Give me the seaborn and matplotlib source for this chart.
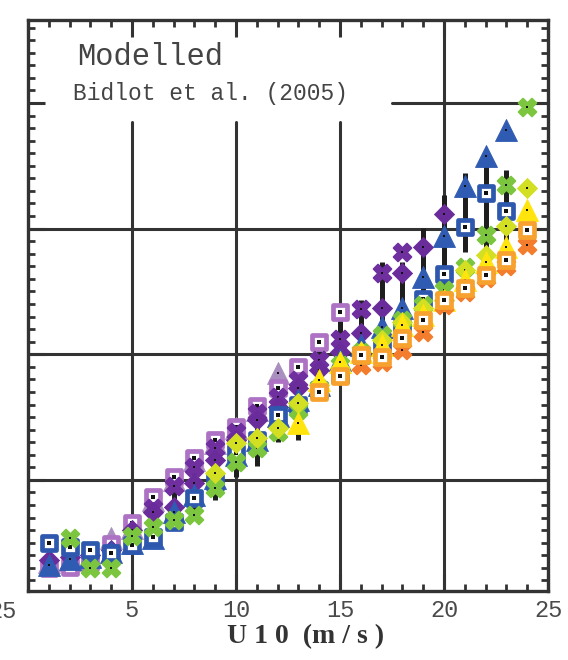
import numpy as np
import pandas as pd
import matplotlib
matplotlib.use("Agg")
import matplotlib.pyplot as plt
from matplotlib.ticker import MultipleLocator
import seaborn as sns

nan = np.nan
wind = list(range(1, 25))  # U10 bins (m/s)

# Observed drag values per wind bin (NaN where a source has no data)
lilac_sq = [0.650, 0.654, 0.674, 0.745, 0.829, 0.932, 1.012, 1.088, 1.159, 1.211, 1.294, 1.366,
            1.449, 1.549, 1.668, nan, nan, nan, nan, nan, nan, nan, nan, nan]
lilac_tri = [0.674, 0.682, 0.698, 0.769, 0.809, 0.920, 1.000, 1.080, 1.147, 1.207, 1.278, 1.426,
             nan, nan, nan, nan, nan, nan, nan, nan, nan, nan, nan, nan]
purple_dia = [0.682, 0.694, 0.702, 0.722, 0.801, 0.873, 0.893, 0.988, 1.080, 1.159, 1.239, 1.290,
              1.366, 1.438, 1.509, 1.585, 1.684, 1.823, 1.927, 2.058, nan, nan, nan, nan]
purple_x = [nan, nan, nan, nan, nan, 0.889, 0.976, 1.052, 1.127, 1.191, 1.267, 1.330,
            1.398, 1.477, 1.561, 1.680, 1.823, 1.907, nan, nan, nan, nan, nan, nan]
blue_tri = [0.662, 0.686, 0.694, 0.714, 0.749, 0.769, 0.873, 0.940, 1.008, 1.099, 1.159, 1.255,
            1.318, 1.378, 1.477, 1.537, 1.609, 1.684, 1.807, 1.971, 2.169, 2.289, 2.392, nan]
blue_sq = [0.749, 0.733, 0.722, 0.710, 0.741, 0.773, 0.833, 0.928, 0.992, 1.107, 1.159, 1.259,
           1.298, 1.358, 1.418, 1.497, 1.537, 1.605, 1.720, 1.819, 2.006, 2.142, 2.070, nan]
green_x = [nan, 0.769, 0.650, 0.650, 0.777, 0.813, 0.841, 0.861, 0.968, 1.072, 1.127, 1.191,
           1.278, 1.366, 1.457, 1.509, 1.577, 1.636, 1.696, 1.756, 1.847, 1.975, 2.173, 2.484]
lime_dia = [nan, nan, nan, nan, nan, nan, nan, nan, 1.028, 1.147, 1.167, 1.207,
            1.306, 1.378, 1.446, 1.509, 1.557, 1.628, 1.684, 1.716, 1.835, 1.895, 2.010, 2.161]
yellow_tri = [nan, nan, nan, nan, nan, nan, nan, nan, nan, nan, nan, nan,
              1.227, 1.398, 1.469, 1.509, 1.537, 1.617, 1.656, 1.716, 1.796, 1.867, 1.927, 2.074]
orange_sq = [nan, nan, nan, nan, nan, nan, nan, nan, nan, nan, nan, nan,
             nan, 1.350, 1.414, 1.497, 1.489, 1.565, 1.636, 1.716, 1.764, 1.815, 1.875, 1.994]
orange_x = [nan, nan, nan, nan, nan, nan, nan, nan, nan, nan, nan, nan,
            nan, nan, nan, 1.457, 1.469, 1.517, 1.589, 1.696, 1.748, 1.804, 1.851, 1.935]

# Modelled spread per bin (lower / upper bound)
model_lo = [0.714, 0.634, 0.690, 0.682, 0.730, 0.741, 0.801, 0.853, 0.920, 1.012, 1.056, 1.151,
            1.159, 1.326, 1.398, 1.457, 1.517, 1.557, 1.589, 1.716, 1.907, 1.915, 1.835, nan]
model_hi = [0.777, 0.781, 0.753, 0.777, 0.849, 0.952, 1.020, 1.107, 1.171, 1.239, 1.306, 1.398,
            1.465, 1.565, 1.696, 1.716, 1.867, 1.867, 2.002, 2.134, 2.221, 2.313, 2.233, nan]

x_ticks = [0, 5, 10, 15, 20, 25]
x_ticklabels = ["", "5", "10", "15", "20", "25"]
y_grid = [1.0, 1.5, 2.0, 2.5]

series = {
    "lilac_tri": lilac_tri, "lilac_sq": lilac_sq, "purple_x": purple_x, "purple_dia": purple_dia,
    "blue_tri": blue_tri, "blue_sq": blue_sq, "green_x": green_x, "lime_dia": lime_dia,
    "yellow_tri": yellow_tri, "orange_x": orange_x, "orange_sq": orange_sq,
}
df = pd.concat(
    [pd.DataFrame({"wind": wind, "value": v, "series": k}) for k, v in series.items()],
    ignore_index=True,
).dropna()

# marker, colour, hollow?, size, edge width
styles = {
    "lilac_tri": ("^", "#a98fbf", False, 250, 0.6),
    "lilac_sq": ("s", "#ad72c4", True, 110, 3.4),
    "purple_x": ("X", "#6f2f9e", False, 165, 1.3),
    "purple_dia": ("D", "#6a2c9a", False, 105, 0.6),
    "blue_tri": ("^", "#2f5bb3", False, 250, 0.6),
    "blue_sq": ("s", "#2e58ae", True, 110, 3.4),
    "green_x": ("X", "#7cc63f", False, 165, 1.3),
    "lime_dia": ("D", "#d2df22", False, 105, 0.6),
    "yellow_tri": ("^", "#ffe50d", False, 250, 0.6),
    "orange_x": ("X", "#f47d2d", False, 165, 1.3),
    "orange_sq": ("s", "#f7a22e", True, 110, 3.4),
}

sns.set_style("ticks", {"axes.axisbelow": False})
mono = "Liberation Mono"

fig = plt.figure(figsize=(5.68, 6.6), dpi=100)
ax = fig.add_axes([28 / 568, 69 / 660, 520 / 568, 571 / 660])

# grid lines, left clear around the legend text in the upper-left corner
ink = "#333333"
legend_bottom, legend_right = 0.821, 0.70
for gx in [5, 10, 15]:
    ax.axvline(gx, ymax=legend_bottom, color=ink, lw=2.2, zorder=0.6)
ax.axvline(20, color=ink, lw=2.2, zorder=0.6)
for gy in y_grid[:-1]:
    ax.axhline(gy, color=ink, lw=2.2, zorder=0.6)
ax.axhline(y_grid[-1], xmin=legend_right, color=ink, lw=2.2, zorder=0.6)

ax.vlines(wind, model_lo, model_hi, color="#1e1e1e", lw=3.6, zorder=2)

for i, (name, (mk, col, hollow, size, lw)) in enumerate(styles.items()):
    sub = df[df.series == name]
    z = 3 + i * 0.1
    if hollow:
        sns.scatterplot(data=sub, x="wind", y="value", marker=mk, s=size, color=col,
                        facecolor="white", edgecolor=col, linewidth=lw, ax=ax,
                        zorder=z, legend=False)
        dot = 10
    else:
        sns.scatterplot(data=sub, x="wind", y="value", marker=mk, s=size, color=col,
                        edgecolor=col, linewidth=lw, ax=ax, zorder=z, legend=False)
        dot = 3
    sns.scatterplot(data=sub, x="wind", y="value", marker="s", s=dot, color="#111111",
                    linewidth=0, ax=ax, zorder=z + 0.05, legend=False)

ax.set_xlim(0, 25)
ax.set_ylim(0.558, 2.83)
ax.set_xticks(x_ticks, x_ticklabels)
ax.set_yticks(y_grid)
ax.xaxis.set_minor_locator(MultipleLocator(1))
ax.yaxis.set_minor_locator(MultipleLocator(0.05))
ax.tick_params(which="both", direction="in", top=True, right=True, left=True,
               bottom=True, color=ink, labelleft=False)
ax.tick_params(which="major", length=12, width=2.2, pad=6, labelsize=17,
               labelcolor="#4a4a4a")
ax.tick_params(which="minor", length=5, width=2.0)
for lab in ax.get_xticklabels():
    lab.set_fontfamily(mono)
for sp in ax.spines.values():
    sp.set_visible(True)
    sp.set_color(ink)
    sp.set_linewidth(2.4)

ax.set_xlabel("U 1 0  (m / s )", fontfamily="Liberation Serif", fontweight="bold",
              fontsize=20, color="#333333")
ax.xaxis.set_label_coords(0.533, -0.058)
ax.set_ylabel("")

ax.text(0.094, 0.921, "Modelled", transform=ax.transAxes, fontfamily=mono,
        fontsize=22, color="#444444", va="baseline", ha="left", zorder=2.6)
ax.text(0.0865, 0.860, "Bidlot et al. (2005)", transform=ax.transAxes, fontfamily=mono,
        fontsize=16.5, color="#444444", va="baseline", ha="left", zorder=2.6)

# neighbouring panel's last tick label, cut by the figure edge
fig.text(17 / 568, 1 - 612 / 660, "25", fontfamily=mono, fontsize=17, color="#4a4a4a",
         ha="right", va="center")

fig.savefig("out.png", dpi=100, facecolor="white")
